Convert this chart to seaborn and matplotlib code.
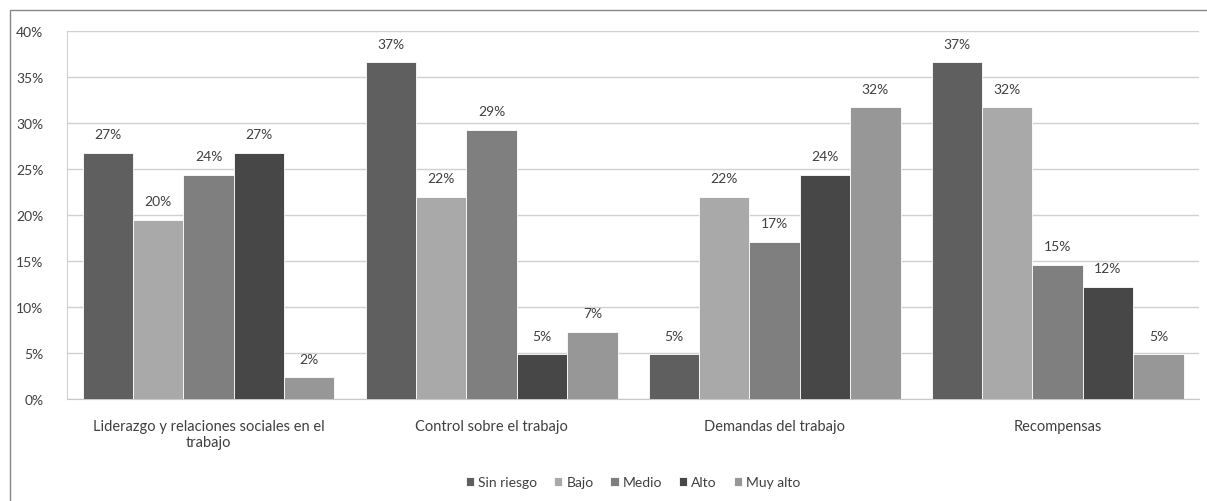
import pandas as pd
import matplotlib.pyplot as plt
import matplotlib.patches as mpatches
import seaborn as sns

categorias = ['Liderazgo y relaciones sociales en el\ntrabajo', 'Control sobre el trabajo',
              'Demandas del trabajo', 'Recompensas']
niveles = ['Sin riesgo', 'Bajo', 'Medio', 'Alto', 'Muy alto']
sin_riesgo = [26.8, 36.6, 4.9, 36.6]
bajo = [19.5, 22.0, 22.0, 31.7]
medio = [24.4, 29.3, 17.1, 14.6]
alto = [26.8, 4.9, 24.4, 12.2]
muy_alto = [2.4, 7.3, 31.7, 4.9]
colores = ['#5f5f5f', '#a9a9a9', '#7f7f7f', '#474747', '#979797']

rows = []
for nivel, vals in zip(niveles, [sin_riesgo, bajo, medio, alto, muy_alto]):
    for cat, v in zip(categorias, vals):
        rows.append({'categoria': cat, 'nivel': nivel, 'valor': v})
data = pd.DataFrame(rows)

sns.set_style('white')
plt.rcParams['font.family'] = ['Lato', 'DejaVu Sans']

fig = plt.figure(figsize=(12.07, 5.02), dpi=100)
ax = fig.add_axes([0.0555, 0.203, 0.938, 0.733])

sns.barplot(data=data, x='categoria', y='valor', hue='nivel', hue_order=niveles,
            order=categorias, palette=colores, width=0.89, ax=ax, zorder=3,
            edgecolor='white', linewidth=0.6)

for cont in ax.containers:
    ax.bar_label(cont, labels=[f'{round(v):d}%' for v in cont.datavalues],
                 padding=9, fontsize=10, color='#404040')

ax.set_ylim(0, 40)
ax.set_yticks(range(0, 41, 5))
ax.set_yticklabels([f'{t}%' for t in range(0, 41, 5)], fontsize=10, color='#404040')
ax.yaxis.grid(True, color='#d0d0d0', linewidth=1, zorder=0)
ax.tick_params(axis='x', labelsize=10.5, colors='#404040', length=0, pad=14)
ax.tick_params(axis='y', length=0, pad=17)
ax.set_xlabel('')
ax.set_ylabel('')
ax.set_xlim(-0.5, 3.5)
for s in ['top', 'right']:
    ax.spines[s].set_visible(False)
ax.spines['left'].set_color('#d0d0d0')
ax.spines['bottom'].set_color('#c8c8c8')

ax.legend(loc='center', bbox_to_anchor=(0.5, -0.226), ncol=5, frameon=False,
          fontsize=10, handlelength=0.6, handleheight=0.6, handletextpad=0.3,
          columnspacing=1.2, labelcolor='#404040')

fig.patches.append(mpatches.Rectangle((0.0083, -0.01), 1.0, 0.988, transform=fig.transFigure,
                                      fill=False, edgecolor='#888888', linewidth=1))

fig.savefig('out.png', dpi=100)
